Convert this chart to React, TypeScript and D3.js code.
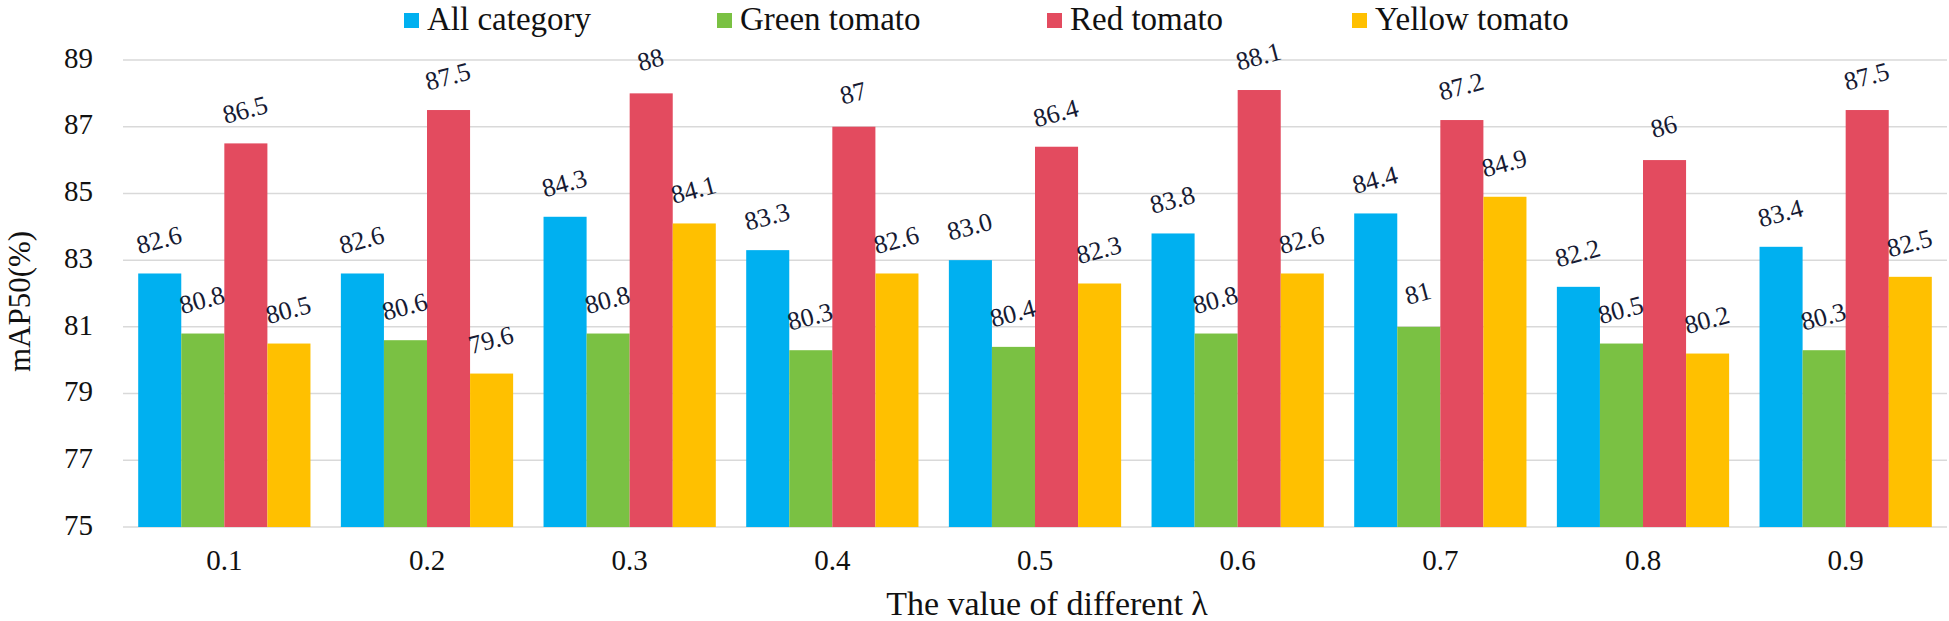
import * as d3 from "d3";

// ── Data ──────────────────────────────────────────────────────────────────────

const LAMBDAS = ["0.1", "0.2", "0.3", "0.4", "0.5", "0.6", "0.7", "0.8", "0.9"];
const SERIES = ["All category", "Green tomato", "Red tomato", "Yellow tomato"];
const COLORS = ["#00B0F0", "#7AC143", "#E34B5F", "#FFC000"];

const ALL_CAT = [82.6, 82.6, 84.3, 83.3, 83.0, 83.8, 84.4, 82.2, 83.4];
const GREEN   = [80.8, 80.6, 80.8, 80.3, 80.4, 80.8, 81, 80.5, 80.3];
const RED     = [86.5, 87.5, 88, 87, 86.4, 88.1, 87.2, 86, 87.5];
const YELLOW  = [80.5, 79.6, 84.1, 82.6, 82.3, 82.6, 84.9, 80.2, 82.5];

// labels as printed on the chart (Excel drops trailing zeros except 83.0)
const ALL_LBL    = ["82.6", "82.6", "84.3", "83.3", "83.0", "83.8", "84.4", "82.2", "83.4"];
const GREEN_LBL  = ["80.8", "80.6", "80.8", "80.3", "80.4", "80.8", "81", "80.5", "80.3"];
const RED_LBL    = ["86.5", "87.5", "88", "87", "86.4", "88.1", "87.2", "86", "87.5"];
const YELLOW_LBL = ["80.5", "79.6", "84.1", "82.6", "82.3", "82.6", "84.9", "80.2", "82.5"];

const Y_TICKS = [75, 77, 79, 81, 83, 85, 87, 89];

const VALUES = [ALL_CAT, GREEN, RED, YELLOW];
const LABELS = [ALL_LBL, GREEN_LBL, RED_LBL, YELLOW_LBL];

// ── Layout ────────────────────────────────────────────────────────────────────

const W = 1949, H = 621;
const m = { top: 60, right: 2, bottom: 94, left: 123 };
const iw = W - m.left - m.right;
const ih = H - m.top - m.bottom;
const SERIF = "'Liberation Serif', 'Times New Roman', serif";
const GRID = "#D9D9D9";
const TXT = "#111111";
const LBL = "#161A33";
const LBL_SIZE = 26;

export default function App() {
  const x = d3.scaleBand().domain(LAMBDAS).range([0, iw]).paddingInner(0.15).paddingOuter(0.075);
  const xs = d3.scaleBand().domain(SERIES).range([0, x.bandwidth()]);
  const y = d3.scaleLinear().domain([75, 89]).range([ih, 0]);

  const legendX = [404, 717, 1047, 1352];

  return (
    <svg width={W} height={H} style={{ position: "absolute", left: 0, top: 0, background: "#fff" }}
      fontFamily={SERIF}>
      {/* Legend */}
      <g>
        {SERIES.map((s, i) => (
          <g key={s} transform={`translate(${legendX[i]},${21})`}>
            <rect x={0} y={-8} width={15} height={15} fill={COLORS[i]} />
            <text x={23} y={1} dominantBaseline="middle" fontSize={33} fill={TXT}>{s}</text>
          </g>
        ))}
      </g>

      <g transform={`translate(${m.left},${m.top})`}>
        {/* Grid */}
        {Y_TICKS.map(t => (
          <line key={t} x1={0} x2={iw} y1={y(t)} y2={y(t)} stroke={GRID} strokeWidth={1.5} />
        ))}

        {/* Y tick labels */}
        {Y_TICKS.map(t => (
          <text key={t} x={-30} y={y(t) + 1} textAnchor="end" dominantBaseline="middle"
            fontSize={29} fill={TXT}>{t}</text>
        ))}

        {/* Bars */}
        {LAMBDAS.map((l, gi) => (
          <g key={l} transform={`translate(${x(l)},0)`}>
            {SERIES.map((s, si) => (
              <rect key={s} x={xs(s)} y={y(VALUES[si][gi])} width={xs.bandwidth()}
                height={ih - y(VALUES[si][gi])} fill={COLORS[si]} />
            ))}
          </g>
        ))}

        {/* Data labels */}
        {LAMBDAS.map((l, gi) => (
          <g key={l} transform={`translate(${x(l)},0)`}>
            {SERIES.map((s, si) => {
              const cx = xs(s)! + xs.bandwidth() / 2;
              const cy = y(VALUES[si][gi]) - 31;
              return (
                <text key={s} transform={`translate(${cx},${cy}) rotate(-15)`} textAnchor="middle"
                  dominantBaseline="middle" fontSize={LBL_SIZE} fill={LBL}>{LABELS[si][gi]}</text>
              );
            })}
          </g>
        ))}

        {/* X tick labels */}
        {LAMBDAS.map(l => (
          <text key={l} x={x(l)! + x.bandwidth() / 2} y={ih + 36} textAnchor="middle"
            dominantBaseline="middle" fontSize={29} fill={TXT}>{l}</text>
        ))}

        {/* Axis title */}
        <text x={iw / 2 + 12} y={ih + 80} textAnchor="middle" dominantBaseline="middle"
          fontSize={34} fill={TXT}>The value of different λ</text>
      </g>
      <text transform={`translate(${23},${m.top + ih / 2 + 8}) rotate(-90)`} textAnchor="middle"
        dominantBaseline="middle" fontSize={31} fill={TXT}>mAP50(%)</text>
    </svg>
  );
}
